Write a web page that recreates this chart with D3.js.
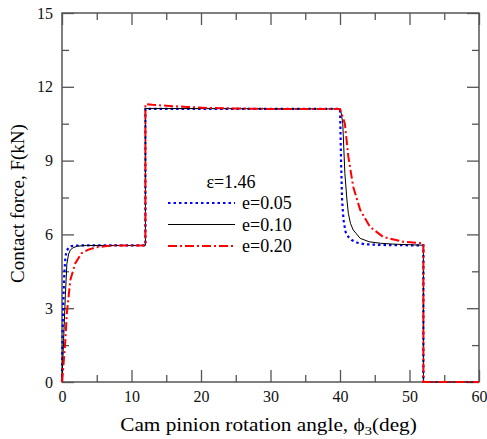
<!DOCTYPE html>
<html>
<head>
<meta charset="utf-8">
<script src="https://cdn.jsdelivr.net/npm/d3@7"></script>
<style>
  body { margin: 0; background: #fff; }
</style>
</head>
<body>
<div id="chart"></div>
<script>
// series (angle in deg, force in kN)
var blueX = [0, 0.05, 0.15, 0.25, 0.35, 0.5, 0.7, 1.0, 1.4, 2.5, 12, 12, 40, 40.05, 40.15, 40.3, 40.5, 40.8, 41.2, 41.7, 42.5, 43.5, 46, 52, 52, 60];
var blueY = [0, 1.5, 2.9, 3.8, 4.5, 5.1, 5.35, 5.47, 5.53, 5.55, 5.55, 11.1, 11.1, 10.5, 9.0, 7.4, 6.6, 6.1, 5.9, 5.77, 5.66, 5.6, 5.57, 5.55, 0, 0];

var blackX = [0, 0.1, 0.23, 0.48, 0.7, 0.95, 1.2, 1.6, 2.2, 3.5, 12, 12, 40, 40.2, 40.4, 40.7, 41.0, 41.2, 41.5, 41.9, 42.9, 44.2, 45.8, 48, 52, 52, 60];
var blackY = [0, 0.8, 1.7, 3.5, 4.8, 5.2, 5.37, 5.46, 5.52, 5.55, 5.55, 11.12, 11.1, 10.9, 10.5, 8.48, 7.4, 6.86, 6.45, 6.18, 5.84, 5.7, 5.64, 5.6, 5.56, 0, 0];

var redX = [0, 0.23, 0.48, 0.7, 1.2, 1.9, 2.8, 3.8, 4.8, 6.2, 7.7, 12, 12, 13, 15, 18, 21, 25, 30, 40, 40.3, 40.7, 41.2, 41.9, 42.9, 44.3, 46.2, 49.1, 51.7, 52, 52, 60];
var redY = [0, 0.76, 1.7, 2.8, 4.15, 4.82, 5.23, 5.38, 5.47, 5.52, 5.55, 5.55, 11.3, 11.27, 11.23, 11.18, 11.14, 11.12, 11.1, 11.1, 10.85, 10.5, 9.16, 7.94, 7.0, 6.31, 5.9, 5.7, 5.64, 5.62, 0, 0];

var xTicks = [0, 10, 20, 30, 40, 50, 60];
var xMinor = [5, 15, 25, 35, 45, 55];
var yTicks = [0, 3, 6, 9, 12, 15];
var yMinor = [1.5, 4.5, 7.5, 10.5, 13.5];

var legendLabels = ["e=0.05", "e=0.10", "e=0.20"];

var serif = "'Liberation Serif', 'Times New Roman', 'DejaVu Serif', serif";

function zip(a, b) {
  var arr = [];
  for (var i = 0; i < a.length; i++) arr.push([a[i], b[i]]);
  return arr;
}

var series = [
  {data: zip(blueX, blueY), color: "#0000ff", width: 2.2, dash: "2.5,3"},
  {data: zip(blackX, blackY), color: "#000", width: 1, dash: null},
  {data: zip(redX, redY), color: "#ff0000", width: 2, dash: "9,3,2,3"}
];

var margin = {top: 13, right: 8, bottom: 57, left: 62},
  width = 417,
  height = 369;

var x = d3.scaleLinear().domain([0, 60]).range([0, width]);
var y = d3.scaleLinear().domain([0, 15]).range([height, 0]);

var svg = d3.select("#chart").append("svg")
    .attr("width", 487)
    .attr("height", 439)
    .style("font-family", serif)
  .append("g")
    .attr("transform", "translate(" + margin.left + "," + margin.top + ")");

// ticks on all four sides, pointing inward
function styleAxis(g) {
  g.attr("font-family", serif);
  g.select(".domain").remove();
  g.selectAll(".tick line").attr("stroke", "#555").attr("stroke-width", 1.3);
  g.selectAll("text")
    .style("font-family", serif)
    .style("font-size", "16px")
    .attr("fill", "#111");
}

svg.append("g").attr("transform", "translate(0," + height + ")")
  .call(d3.axisBottom(x).tickValues(xTicks).tickSize(-12).tickPadding(9))
  .call(styleAxis);
svg.append("g").attr("transform", "translate(0," + height + ")")
  .call(d3.axisBottom(x).tickValues(xMinor).tickSize(-7).tickFormat(""))
  .call(styleAxis);
svg.append("g")
  .call(d3.axisTop(x).tickValues(xTicks).tickSize(-12).tickFormat(""))
  .call(styleAxis);
svg.append("g")
  .call(d3.axisTop(x).tickValues(xMinor).tickSize(-7).tickFormat(""))
  .call(styleAxis);

svg.append("g")
  .call(d3.axisLeft(y).tickValues(yTicks).tickSize(-12).tickPadding(9))
  .call(styleAxis);
svg.append("g")
  .call(d3.axisLeft(y).tickValues(yMinor).tickSize(-7).tickFormat(""))
  .call(styleAxis);
svg.append("g").attr("transform", "translate(" + width + ",0)")
  .call(d3.axisRight(y).tickValues(yTicks).tickSize(-12).tickFormat(""))
  .call(styleAxis);
svg.append("g").attr("transform", "translate(" + width + ",0)")
  .call(d3.axisRight(y).tickValues(yMinor).tickSize(-7).tickFormat(""))
  .call(styleAxis);

// frame
svg.append("rect")
  .attr("width", width)
  .attr("height", height)
  .attr("fill", "none")
  .attr("stroke", "#555")
  .attr("stroke-width", 1.5);

var line = d3.line()
  .x(function(d) { return x(d[0]); })
  .y(function(d) { return y(d[1]); });

series.forEach(function(s) {
  svg.append("path")
    .attr("d", line(s.data))
    .attr("fill", "none")
    .attr("stroke", s.color)
    .attr("stroke-width", s.width)
    .attr("stroke-dasharray", s.dash);
});

// legend
svg.append("text")
  .attr("x", 169)
  .attr("y", 175)
  .attr("text-anchor", "middle")
  .style("font-family", serif)
  .style("font-size", "18px")
  .text("\u03b5=1.46");

series.forEach(function(s, i) {
  var ly = 190 + i * 21.5;
  svg.append("line")
    .attr("x1", 106).attr("x2", 173)
    .attr("y1", ly).attr("y2", ly)
    .attr("stroke", s.color)
    .attr("stroke-width", s.width)
    .attr("stroke-dasharray", s.dash);
  svg.append("text")
    .attr("x", 180)
    .attr("y", ly + 6)
    .style("font-family", serif)
    .style("font-size", "18px")
    .text(legendLabels[i]);
});

// axis labels (a little wider than the font, as in the source image)
var xl = svg.append("text")
  .attr("text-anchor", "middle")
  .attr("transform", "translate(" + (width / 2 - 2) + "," + (height + 49) + ")scale(1.12,1)")
  .style("font-family", serif)
  .style("font-size", "19px");
xl.append("tspan").text("Cam pinion rotation angle, \u03d5");
xl.append("tspan").attr("dy", 4).style("font-size", "13px").text("3");
xl.append("tspan").attr("dy", -4).text("(deg)");

svg.append("text")
  .attr("text-anchor", "middle")
  .attr("transform", "translate(" + (-38) + "," + (height / 2 + 6) + ")rotate(-90)")
  .style("font-family", serif)
  .style("font-size", "19px")
  .text("Contact force, F(kN)");
</script>
</body>
</html>
